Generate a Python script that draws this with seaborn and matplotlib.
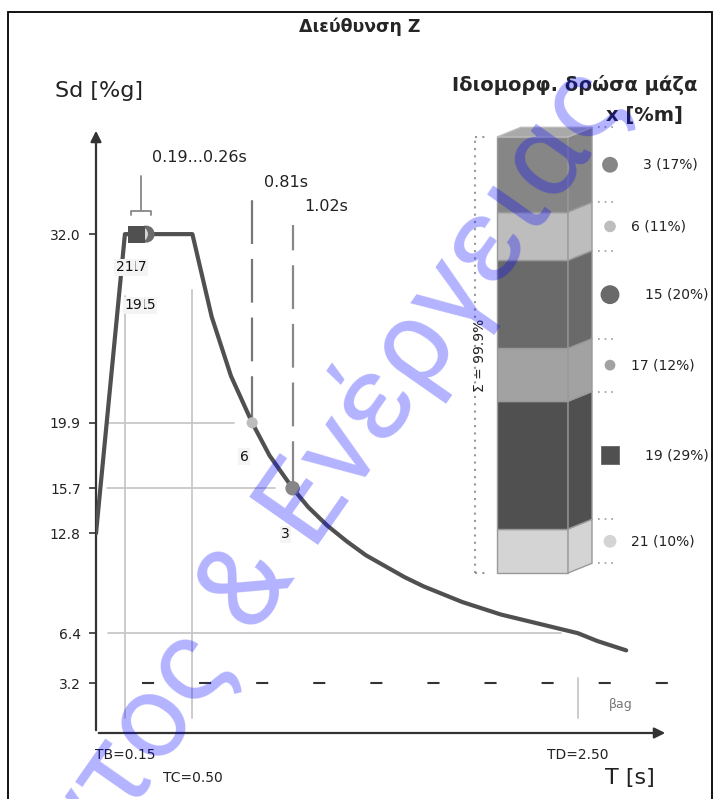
import numpy as np
import pandas as pd
import seaborn as sns
import matplotlib
matplotlib.use('Agg')
import matplotlib.pyplot as plt
from matplotlib.patches import Polygon, Rectangle

# design spectrum
T = [0.0, 0.15, 0.50, 0.60, 0.70, 0.81, 0.90, 1.02, 1.10, 1.20, 1.30, 1.40, 1.50,
     1.60, 1.70, 1.80, 1.90, 2.00, 2.10, 2.20, 2.30, 2.40, 2.50, 2.60, 2.75]
Sd = [12.8, 32.0, 32.0, 26.7, 22.9, 19.9, 17.8, 15.7, 14.5, 13.3, 12.3, 11.4, 10.7,
      10.0, 9.4, 8.9, 8.4, 8.0, 7.6, 7.3, 7.0, 6.7, 6.4, 5.9, 5.3]

ytick_vals = [3.2, 6.4, 12.8, 15.7, 19.9, 32.0]
TB, TC, TD = 0.15, 0.50, 2.50
bag = 3.2

# modes
modes = [3, 6, 15, 17, 19, 21]
periods = [1.02, 0.81, 0.26, 0.25, 0.21, 0.23]
mode_sd = [15.7, 19.9, 32.0, 32.0, 32.0, 32.0]
mass = [17, 11, 20, 12, 29, 10]
mode_colors = ['#868686', '#bdbdbd', '#6a6a6a', '#a2a2a2', '#505050', '#d4d4d4']

# styles
curve_marker = ['o', 'o', 'o', 'o', 's', 'o']
curve_msize = [110, 65, 150, 120, 150, 120]
lab_off = [(-7, -46), (-8, -34), (1, -71), (-6, -33), (-3, -71), (-16, -33)]
leg_msize = [130, 70, 185, 60, 0, 85]
leg_lab_x = [183, 171, 185, 171, 185, 171]

W, H = 719, 799
fig = plt.figure(figsize=(W / 100, H / 100), dpi=100)
sns.set_style('white')
plt.rcParams['font.family'] = ['DejaVu Sans']


def fx(px):
    return px / W


def fy(py):
    return 1 - py / H


# frame
fig.patches.append(Rectangle((fx(8), -0.02), fx(712) - fx(8), fy(12) + 0.02,
                             transform=fig.transFigure, fill=False, ec='black', lw=1.3))

# main axes, T=0 at x=96, Sd=0 at y=733
xs, ys = 192.8, 15.59
ax = fig.add_axes([fx(96), fy(733), (668 - 96) / W, (733 - 128) / H])
ax.set_xlim(0, (668 - 96) / xs)
ax.set_ylim(0, (733 - 128) / ys)
for s in ax.spines.values():
    s.set_visible(False)
ax.set_facecolor('none')

ax.annotate('', xy=(1, 0), xytext=(0, 0), xycoords='axes fraction',
            arrowprops=dict(arrowstyle='-|>', color='#333333', lw=1.6, mutation_scale=16))
ax.annotate('', xy=(0, 1), xytext=(0, 0), xycoords='axes fraction',
            arrowprops=dict(arrowstyle='-|>', color='#333333', lw=1.6, mutation_scale=16))

ax.set_xticks([])
ax.set_yticks(ytick_vals)
ax.set_yticklabels([f'{v:.1f}' for v in ytick_vals], fontsize=10, color='#222222')
ax.tick_params(axis='y', length=5, width=1.2, color='#333333', pad=6, left=True)

# guides
g = '#c8c8c8'
ax.plot([0.055, 0.715], [19.9, 19.9], color=g, lw=1.3)
ax.plot([0.055, 0.93], [15.7, 15.7], color=g, lw=1.3)
ax.plot([0.06, 2.41], [6.4, 6.4], color=g, lw=1.3)
ax.plot([TB, TB], [0.96, 28.0], color=g, lw=1.3)
ax.plot([TC, TC], [0.96, 28.4], color=g, lw=1.3)
ax.plot([TD, TD], [0.96, 3.5], color=g, lw=1.3)
ax.plot([0.238, 2.967], [bag, bag], color='#333333', lw=1.5, dashes=(5.8, 21.6))

# period markers
ax.plot([0.81, 0.81], [20.1, 34.2], color='#777777', lw=1.6, dashes=(19.7, 6.7))
ax.plot([1.02, 1.02], [15.9, 32.6], color='#888888', lw=1.6, dashes=(19.7, 6.7))
ax.plot([0.182, 0.182, 0.283, 0.283], [33.2, 33.5, 33.5, 33.2], color='#888888', lw=1.3)
ax.plot([0.233, 0.233], [33.5, 35.7], color='#888888', lw=1.3)
ax.text(0.29, 36.9, '0.19...0.26s', fontsize=11.5, va='center', color='#222222')
ax.text(0.87, 35.3, '0.81s', fontsize=11.5, va='center', color='#222222')
ax.text(1.08, 33.8, '1.02s', fontsize=11.5, va='center', color='#222222')

# spectrum
sns.lineplot(x=T, y=Sd, ax=ax, color='#505050', lw=3, zorder=3)

df = pd.DataFrame({'mode': modes, 'T': periods, 'Sd': mode_sd, 'mass': mass})
order = [3, 2, 5, 4, 1, 0]
for i in order:
    sns.scatterplot(x=[df['T'][i]], y=[df['Sd'][i]], ax=ax, marker=curve_marker[i],
                    s=curve_msize[i], color=mode_colors[i], edgecolor='none', zorder=4)
for i in [3, 5, 2, 4, 1, 0]:
    ax.annotate(str(modes[i]), (periods[i], mode_sd[i]), xytext=lab_off[i],
                textcoords='offset pixels', ha='center', va='center', fontsize=10,
                color='#111111', zorder=5,
                bbox=dict(boxstyle='square,pad=0.1', fc='#f4f4f4', ec='none'))

ax.text(2.72, 1.8, 'βag', fontsize=9, color='#777777', ha='center', va='center')

# x labels
fig.text(fx(125), fy(755), 'TB=0.15', fontsize=10, ha='center', va='center', color='#222222')
fig.text(fx(193), fy(778), 'TC=0.50', fontsize=10, ha='center', va='center', color='#222222')
fig.text(fx(578), fy(755), 'TD=2.50', fontsize=10, ha='center', va='center', color='#222222')
fig.text(fx(605), fy(778), 'T [s]', fontsize=16, ha='left', va='center', color='#222222')
fig.text(fx(55), fy(91), 'Sd [%g]', fontsize=16, ha='left', va='center', color='#222222')
fig.text(fx(360), fy(27), 'Διεύθυνση Z', fontsize=12.5, weight='bold', ha='center', va='center')
fig.text(fx(697), fy(85), 'Ιδιομορφ. δρώσα μάζα', fontsize=14, weight='bold', ha='right', va='center')
fig.text(fx(683), fy(115), 'x [%m]', fontsize=14, weight='bold', ha='right', va='center')

# stacked mass column
pp = 4.404
axb = fig.add_axes([fx(460), fy(590), 259 / W, 490 / H])
axb.set_xlim(0, 259)
axb.set_ylim(-(590 - 573) / pp, (573 - 100) / pp)
axb.axis('off')

stack = [5, 4, 3, 2, 1, 0]
bottoms = {}
b = 0
for i in stack:
    bottoms[i] = b
    b += mass[i]
total = b
sk = 2.2
for i in stack:
    b0, b1 = bottoms[i], bottoms[i] + mass[i]
    axb.bar(72.5, mass[i], bottom=b0, width=71, color=mode_colors[i], edgecolor='#999999', lw=1)
    axb.add_patch(Polygon([(108, b0), (132, b0 + sk), (132, b1 + sk), (108, b1)],
                          closed=True, fc=mode_colors[i], ec='#999999', lw=1))
    axb.plot([138, 156], [b1 + sk, b1 + sk], color='#999999', lw=1.2, ls=(0, (1, 3)))
    yc = (b0 + b1) / 2 + sk
    if curve_marker[i] == 's':
        axb.scatter([150], [yc], marker='s', s=170, color=mode_colors[i], edgecolor='#666666', lw=0.6)
    else:
        axb.scatter([150], [yc], marker='o', s=leg_msize[i], color=mode_colors[i], edgecolor='none')
    axb.text(leg_lab_x[i], yc, f'{modes[i]} ({mass[i]}%)', fontsize=10, va='center', color='#222222')
axb.plot([138, 156], [sk, sk], color='#999999', lw=1.2, ls=(0, (1, 3)))
axb.add_patch(Polygon([(37, total), (61, total + sk), (132, total + sk), (108, total)],
                      closed=True, fc='#a9a9a9', ec='#bbbbbb', lw=1))
axb.plot([15, 15], [0, total], color='#999999', lw=1.5, ls=(0, (1, 2.5)))
axb.plot([15, 25], [total, total], color='#999999', lw=1.5, ls=(0, (1, 2.5)))
axb.plot([15, 28], [0, 0], color='#999999', lw=1.5, ls=(0, (1, 2.5)))
axb.text(20, 49.5, 'Σ = 99.9%', rotation=90, fontsize=10, ha='center', va='center')

# watermark
fig.text(fx(630), fy(100), 'Περιβάλλοντος & Ενέργειας', fontsize=86, family='Roboto',
         color='blue', alpha=0.3, rotation=55, rotation_mode='anchor', ha='right',
         va='baseline', zorder=10)

fig.savefig('out.png', dpi=100)
